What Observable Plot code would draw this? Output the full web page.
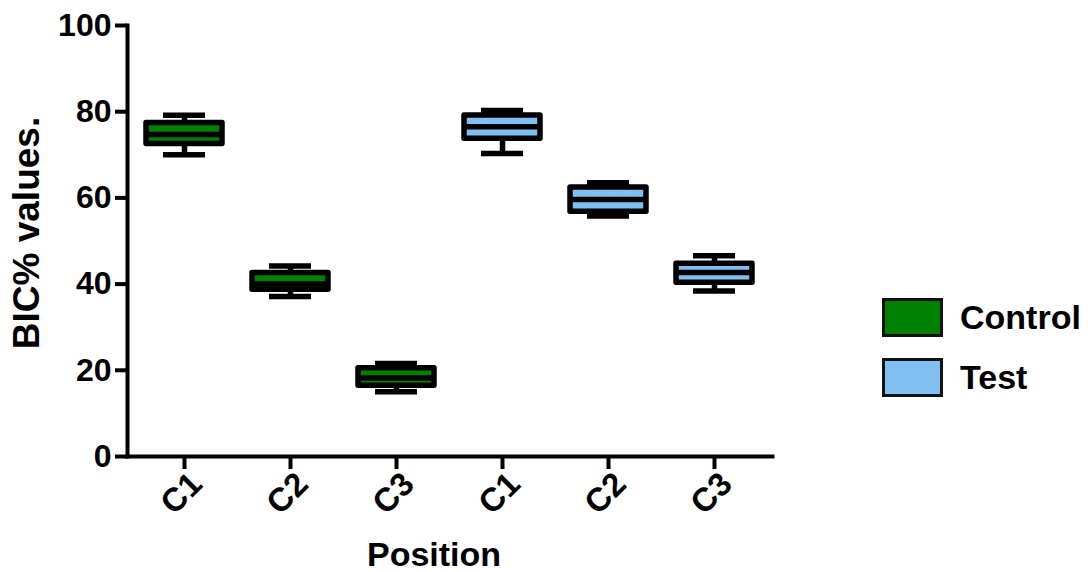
<!DOCTYPE html>
<html><head><meta charset="utf-8">
<script src="https://cdn.jsdelivr.net/npm/d3@7"></script>
<script src="https://cdn.jsdelivr.net/npm/@observablehq/plot@0.6"></script>
<style>
body{margin:0;background:#fff;font-family:"Liberation Sans",Arial,sans-serif;}
#wrap{position:relative;width:1088px;height:572px;overflow:hidden;}
#chart{position:absolute;left:0;top:0;}
#legend{position:absolute;left:882px;top:298px;}
.item{display:flex;align-items:center;height:39px;margin-bottom:21px;}
.sw{width:55px;height:33px;border:3px solid #111;margin-right:17px;box-sizing:content-box;}
.lab{font-weight:bold;font-size:34px;color:#000;line-height:39px;}
</style></head><body>
<div id="wrap"><div id="chart"></div><div id="legend"></div></div>
<script>
// ---- data ----
const groupNames = ["Control", "Test"];
const groupColors = ["#008000", "#80bff2"];
const groups    = ["Control", "Control", "Control", "Test", "Test", "Test"];
const positions = ["C1", "C2", "C3", "C1", "C2", "C3"];
const mins    = [70.0, 37.1, 15.0, 70.3, 55.8, 38.4];
const q1s     = [72.5, 38.7, 16.4, 73.7, 56.8, 40.3];
const medians = [74.7, 40.0, 18.2, 76.5, 59.6, 42.7];
const q3s     = [77.4, 42.6, 20.5, 79.1, 62.4, 44.7];
const maxs    = [79.2, 44.2, 21.6, 80.3, 63.5, 46.6];
const yTicks  = [0, 20, 40, 60, 80, 100];
const yLabel = "BIC% values.";
const xLabel = "Position";

const data = groups.map((g, i) => ({
  key: g + "-" + positions[i], group: g, pos: positions[i],
  min: mins[i], q1: q1s[i], med: medians[i], q3: q3s[i], max: maxs[i]
}));
const keys = data.map(d => d.key);
const SW = 5.5;

const chart = Plot.plot({
  width: 860, height: 572,
  marginLeft: 127, marginRight: 88, marginTop: 25, marginBottom: 116,
  style: {fontFamily: "'Liberation Sans', Arial, sans-serif", fontWeight: "bold", fontSize: "32px", color: "#000", background: "transparent"},
  x: {type: "band", domain: keys, range: [123.5, 775], paddingInner: 0.28, paddingOuter: 0.19, axis: null},
  y: {domain: [0, 100], axis: null},
  color: {domain: groupNames, range: groupColors},
  marks: [
    Plot.axisY({ticks: yTicks, tickSize: 12, tickPadding: 4, strokeWidth: 4, label: null, fontSize: 32, fontWeight: "bold"}),
    Plot.axisX({tickSize: 13, strokeWidth: 4, tickFormat: () => "", label: null}),
    Plot.frame({anchor: "left", strokeWidth: 4}),
    Plot.frame({anchor: "bottom", strokeWidth: 4}),
    Plot.ruleX(data, {x: "key", y1: "min", y2: "q1", stroke: "#000", strokeWidth: SW}),
    Plot.ruleX(data, {x: "key", y1: "q3", y2: "max", stroke: "#000", strokeWidth: SW}),
    Plot.tickY(data, {x: "key", y: "min", stroke: "#000", strokeWidth: SW, insetLeft: 17, insetRight: 17}),
    Plot.tickY(data, {x: "key", y: "max", stroke: "#000", strokeWidth: SW, insetLeft: 17, insetRight: 17}),
    Plot.barY(data, {x: "key", y1: "q1", y2: "q3", fill: "group", stroke: "#000", strokeWidth: SW, strokeLinejoin: "round"}),
    Plot.tickY(data, {x: "key", y: "med", stroke: "#000", strokeWidth: SW}),
    Plot.text(data, {x: "key", text: "pos", frameAnchor: "bottom", dx: -3, dy: 37, rotate: -45,
      textAnchor: "middle", lineAnchor: "middle", fontSize: 33, fontWeight: "bold", fill: "#000"}),
    Plot.text([yLabel], {text: d => d, frameAnchor: "left", dx: -100, dy: -8, rotate: -90,
      textAnchor: "middle", lineAnchor: "middle", fontSize: 37, fontWeight: "bold", fill: "#000"}),
    Plot.text([xLabel], {text: d => d, frameAnchor: "bottom", dx: -16, dy: 99,
      lineAnchor: "middle", fontSize: 34, fontWeight: "bold", fill: "#000"})
  ]
});
document.getElementById("chart").appendChild(chart);

const legend = document.getElementById("legend");
groupNames.forEach((g, i) => {
  const item = document.createElement("div"); item.className = "item";
  const sw = document.createElement("div"); sw.className = "sw"; sw.style.background = groupColors[i];
  const lab = document.createElement("div"); lab.className = "lab"; lab.textContent = g;
  item.appendChild(sw); item.appendChild(lab); legend.appendChild(item);
});
</script></body></html>
